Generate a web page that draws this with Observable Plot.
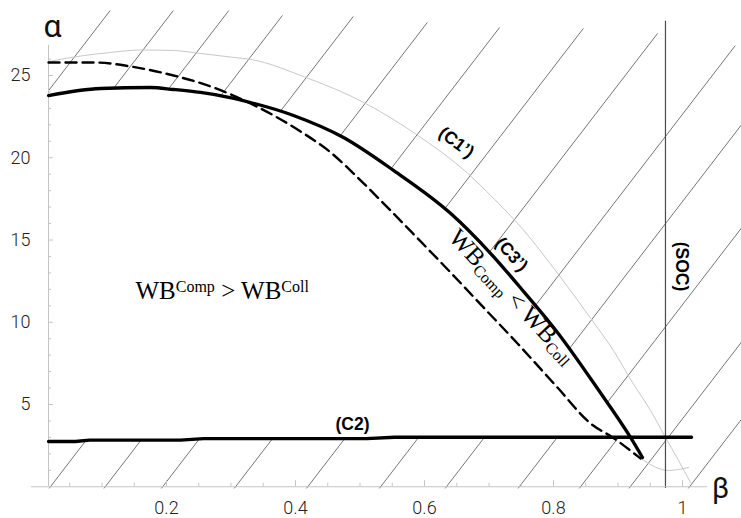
<!DOCTYPE html>
<html>
<head>
<meta charset="utf-8">
<script src="https://cdn.jsdelivr.net/npm/d3@7"></script>
<script src="https://cdn.jsdelivr.net/npm/@observablehq/plot@0.6"></script>
<style>
html, body { margin: 0; padding: 0; background: #fff; }
#chart { width: 741px; height: 518px; }
</style>
</head>
<body>
<div id="chart"></div>
<script>
// ---------- data (β, α) ----------
const c1Prime = [[0.0171,25.85],[0.0713,26.21],[0.1132,26.40],[0.1597,26.55],[0.2109,26.52],[0.2527,26.34],[0.3039,26.10],[0.3302,25.98],[0.4155,24.89],[0.5054,23.37],[0.5891,21.37],[0.6667,19.06],[0.7023,17.72],[0.7535,15.60],[0.8062,12.98],[0.8574,10.25],[0.8930,8.28],[0.9225,6.34],[0.9504,4.64],[0.9736,3.00],[0.9938,1.60],[1.0124,0.26]];
const c1Tail = [[0.9349,1.72],[0.9783,0.99],[1.0093,1.17]];
const dashedCurve = [[0.0171,25.79],[0.0899,25.79],[0.1442,25.55],[0.2109,25.00],[0.2729,24.27],[0.3302,23.30],[0.4078,21.60],[0.4543,20.33],[0.4961,18.81],[0.5364,17.23],[0.5891,15.11],[0.6403,13.03],[0.6915,10.90],[0.7442,8.71],[0.8062,6.03],[0.8574,3.85],[0.8915,3.00],[0.9349,1.72]];
const c3Prime = [[0.0171,23.78],[0.0977,24.21],[0.1752,24.27],[0.2109,24.15],[0.2527,23.97],[0.2946,23.69],[0.3302,23.36],[0.3969,22.57],[0.4744,21.23],[0.5519,19.23],[0.6403,16.62],[0.7023,14.19],[0.7535,11.88],[0.8062,9.38],[0.8682,5.97],[0.9194,3.00],[0.9380,1.78]];
const c2 = [[0.0171,2.75],[0.0589,2.75],[0.0806,2.83],[0.2217,2.83],[0.2574,2.92],[0.5101,2.92],[0.5535,3.01],[1.0140,3.01]];
const socBeta = 0.9736;
const socSpan = [-0.1, 28.3];

// hatching: β-intercepts (at α = 0) of the diagonal lines, and their common slope (α per unit β)
const hatchSlope = 51;
const topHatch = [-0.455,-0.357,-0.271,-0.182,-0.071,0.051,0.169,0.300,0.421,0.556,0.660,0.783];
const bottomHatch = [0.020,0.105,0.194,0.307,0.419,0.532,0.634,0.747,0.842,0.919,1.011];
const hatchTop = [[0.0,28.95],[0.299,28.95],[0.380,28.65],[0.490,28.59],[0.605,28.22],[0.718,27.92],[0.847,27.86],[0.961,27.56],[1.091,26.76],[1.3,25.5]];

// axes
const axisOrigin = 0.0171;
const xMajorTicks = [0.2, 0.4, 0.6, 0.8, 1];
const xTickLabels = ["0.2", "0.4", "0.6", "0.8", "1"];
const xMinorTicks = [0.05,0.1,0.15,0.25,0.3,0.35,0.45,0.5,0.55,0.65,0.7,0.75,0.85,0.9,0.95];
const yMajorTicks = [5, 10, 15, 20, 25];
const yTickLabels = ["5", "10", "15", "20", "25"];
const yMinorTicks = [1,2,3,4,6,7,8,9,11,12,13,14,16,17,18,19,21,22,23,24,26];

// annotations
const curveLabels = [
  {text: "(C1’)", beta: 0.6496, alpha: 20.93, rotate: 37},
  {text: "(C3’)", beta: 0.7349, alpha: 14.12, rotate: 48},
  {text: "(SOC)", beta: 0.9984, alpha: 13.39, rotate: 90},
  {text: "(C2)", beta: 0.4884, alpha: 3.78, rotate: 0}
];
const regionLabels = [
  {parts: [["WB",""],["Comp","sup"],[" > WB",""],["Coll","sup"]], beta: 0.1519, alpha: 11.44, rotate: 0},
  {parts: [["WB",""],["Comp","sub"],[" < WB",""],["Coll","sub"]], beta: 0.6357, alpha: 15.09, rotate: 47}
];

// ---------- scale calibration (pixels per unit) ----------
const pxBeta = 645, pxAlpha = 16.45;
const W = 741, H = 518;
const xDomain = [-37 / pxBeta, (W - 37) / pxBeta];
const yDomain = [-(H - 486.25) / pxAlpha, 486.25 / pxAlpha];

// ---------- hatch segments from the curves ----------
function crossing(b, poly) {
  const m = hatchSlope;
  for (let i = 0; i < poly.length - 1; i++) {
    const [x0, y0] = poly[i], [x1, y1] = poly[i + 1];
    const f0 = y0 - m * (x0 - b), f1 = y1 - m * (x1 - b);
    if (f0 === 0) return [x0, y0];
    if (f0 * f1 < 0 || f1 === 0) {
      const t = f0 / (f0 - f1);
      const x = x0 + t * (x1 - x0);
      return [x, m * (x - b)];
    }
  }
  return null;
}
function interp(poly, x) {
  for (let i = 0; i < poly.length - 1; i++) {
    const [x0, y0] = poly[i], [x1, y1] = poly[i + 1];
    if (x >= x0 && x <= x1) return y0 + (y1 - y0) * (x - x0) / (x1 - x0);
  }
  return null;
}
const hatchSegs = [];
for (const b of topHatch) {
  let lo = crossing(b, c3Prime);
  if (!lo) { const x = c3Prime[0][0]; lo = [x, hatchSlope * (x - b)]; }
  const hi = crossing(b, hatchTop) || [b + 30 / hatchSlope, 30];
  hatchSegs.push({x1: lo[0], y1: lo[1], x2: hi[0], y2: hi[1]});
}
for (const b of bottomHatch) {
  const lo = [b - 0.1 / hatchSlope, -0.1];
  const c = crossing(b, c2);
  let hi = null;
  if (c) {
    const s = interp(c3Prime, c[0]);
    if (s !== null && s > c[1]) hi = c;
  }
  if (!hi) hi = crossing(b, hatchTop) || [b + 30 / hatchSlope, 30];
  hatchSegs.push({x1: lo[0], y1: lo[1], x2: hi[0], y2: hi[1]});
}

const tickFont = "Roboto, 'Liberation Sans', Arial, sans-serif";
const axisGray = "#c4c4c4";
const xy = {x: d => d[0], y: d => d[1]};
const joined = l => l.parts.map(p => p[0]).join("");

const svg = Plot.plot({
  width: W,
  height: H,
  margin: 0,
  x: {domain: xDomain, axis: null},
  y: {domain: yDomain, axis: null},
  marks: [
    Plot.link(hatchSegs, {x1: "x1", y1: "y1", x2: "x2", y2: "y2", stroke: "#3a3a3a", strokeWidth: 0.7, clip: true}),
    Plot.line(c1Prime, {...xy, curve: "monotone-x", stroke: "#c8c8c8", strokeWidth: 1}),
    Plot.line(c1Tail, {...xy, curve: "monotone-x", stroke: "#c8c8c8", strokeWidth: 1}),
    Plot.ruleX([socBeta], {y1: socSpan[0], y2: socSpan[1], stroke: "#4a4a4a", strokeWidth: 1.2}),
    // axes
    Plot.ruleY([0], {x1: -6 / pxBeta, x2: (707 - 37) / pxBeta, stroke: axisGray, strokeWidth: 1}),
    Plot.ruleX([axisOrigin], {y1: 0, y2: (486.25 - 45) / pxAlpha, stroke: axisGray, strokeWidth: 1}),
    Plot.ruleX(xMajorTicks, {x: d => d, y1: 0, y2: 6 / pxAlpha, stroke: axisGray}),
    Plot.ruleX(xMinorTicks, {x: d => d, y1: 0, y2: 3.5 / pxAlpha, stroke: axisGray}),
    Plot.ruleY(yMajorTicks, {y: d => d, x1: axisOrigin, x2: axisOrigin + 5 / pxBeta, stroke: axisGray}),
    Plot.ruleY(yMinorTicks, {y: d => d, x1: axisOrigin, x2: axisOrigin + 3 / pxBeta, stroke: axisGray}),
    // curves
    Plot.line(dashedCurve, {...xy, curve: "monotone-x", stroke: "#000", strokeWidth: 2.4, strokeDasharray: "11,6"}),
    Plot.line(c3Prime, {...xy, curve: "monotone-x", stroke: "#000", strokeWidth: 3.3, strokeLinejoin: "round"}),
    Plot.line(c2, {...xy, stroke: "#000", strokeWidth: 3.3}),
    // tick labels
    Plot.text(xMajorTicks, {x: d => d, y: () => 0, text: (d, i) => xTickLabels[i], dy: 21, fontSize: 18, fontFamily: tickFont, fontWeight: 300, fill: "#222"}),
    Plot.text(yMajorTicks, {x: () => axisOrigin, y: d => d, text: (d, i) => yTickLabels[i], textAnchor: "end", dx: -18, fontSize: 18, fontFamily: tickFont, fontWeight: 300, fill: "#222"}),
    // axis names
    Plot.text(["α"], {x: () => 0.0233, y: () => 27.98, text: d => d, fontSize: 32, fontFamily: tickFont, fill: "#111"}),
    Plot.text(["β"], {x: () => 1.0589, y: () => -0.106, text: d => d, fontSize: 29, fontFamily: tickFont, fill: "#111"}),
    // curve labels
    ...curveLabels.map(l => Plot.text([l], {x: "beta", y: "alpha", text: "text", rotate: l.rotate, fontSize: 17.5, fontWeight: "bold", fontFamily: "'Liberation Sans', Arial, sans-serif", fill: "#000"})),
    // region labels (rich text built below)
    ...regionLabels.map(l => Plot.text([l], {x: "beta", y: "alpha", text: joined, rotate: l.rotate, textAnchor: "start", lineAnchor: "bottom", fontSize: 25, fontFamily: "'Liberation Serif', 'Times New Roman', serif", fill: "#000"}))
  ]
});

// superscripts / subscripts for the region labels
const ns = "http://www.w3.org/2000/svg";
const allTexts = Array.from(svg.querySelectorAll("text"));
for (const l of regionLabels) {
  const t = allTexts.find(el => el.textContent === joined(l));
  if (!t) continue;
  while (t.firstChild) t.removeChild(t.firstChild);
  let shift = 0;
  for (const [str, kind] of l.parts) {
    const ts = document.createElementNS(ns, "tspan");
    const target = kind === "sup" ? -7 : kind === "sub" ? 4 : 0;
    ts.setAttribute("dy", String(target - shift));
    shift = target;
    if (kind) ts.setAttribute("font-size", "16");
    ts.textContent = str;
    t.appendChild(ts);
  }
}

document.getElementById("chart").appendChild(svg);
</script>
</body>
</html>
